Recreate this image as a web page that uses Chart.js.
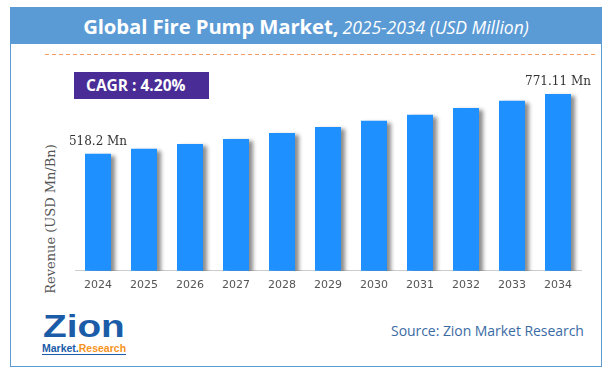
<!DOCTYPE html>
<html>
<head>
<meta charset="utf-8">
<script src="https://cdn.jsdelivr.net/npm/chart.js@4"></script>
<style>
  html, body { margin: 0; padding: 0; background: #fff; }
  body { width: 613px; height: 379px; position: relative; overflow: hidden; }
  .abs { position: absolute; }
  #frame { left: 10px; top: 7px; width: 592px; height: 360px; box-sizing: border-box; border: 1.5px solid #5B9BD5; }
  #band { left: 10px; top: 7px; width: 592px; height: 37px; background: #5B9BD5; color: #fff; text-align: center; line-height: 38px; white-space: nowrap; font-family: "Open Sans", sans-serif; }
  #band b { font-weight: 700; font-size: 20.3px; letter-spacing: -0.1px; }
  #band i { font-weight: 400; font-size: 17.5px; }
  #dash { left: 45px; top: 53.5px; width: 552px; height: 1.5px; background: repeating-linear-gradient(to right, #F29B62 0 4px, transparent 4px 7px); }
  #cagr { left: 74px; top: 72px; width: 135px; height: 27px; background: #4A2C96; color: #fff; font-family: "Open Sans", sans-serif; font-weight: 700; font-size: 15.5px; line-height: 27px; box-sizing: border-box; padding-left: 12px; white-space: nowrap; }
  #ytitle { left: 50px; top: 219px; transform: translate(-50%, -50%) rotate(-90deg); font-family: "DejaVu Serif", serif; font-size: 13px; color: #555; white-space: nowrap; }
  #source { left: 391px; top: 321px; font-family: "Open Sans", sans-serif; font-size: 14px; color: #3B6BA5; white-space: nowrap; letter-spacing: -0.05px; }
  #logo1 { left: 43px; top: 309px; font-family: "Liberation Sans", sans-serif; font-weight: 700; font-size: 31px; color: #1A5CA8; transform-origin: left top; transform: scaleX(1.25); line-height: 36px; }
  #logo2 { left: 42px; top: 342px; font-family: "Liberation Sans", sans-serif; font-weight: 700; font-size: 10.5px; line-height: 12px; border-bottom: 1px solid #1A5CA8; white-space: nowrap; }
  #logo2 .m { color: #1A5CA8; }
  #logo2 .r { color: #F7941D; }
  #c { position: absolute; left: 0; top: 0; }
</style>
</head>
<body>
<div id="frame" class="abs"></div>
<div id="band" class="abs"><b>Global Fire Pump Market,</b> <i>2025-2034 (USD Million)</i></div>
<div id="dash" class="abs"></div>
<div id="cagr" class="abs">CAGR :&nbsp;4.20%</div>
<div id="ytitle" class="abs">Revenue (USD Mn/Bn)</div>
<div id="logo1" class="abs">Zion</div>
<div id="logo2" class="abs"><span class="m">Market.</span><span class="r">Research</span></div>
<div id="source" class="abs">Source: Zion Market Research</div>
<canvas id="c" width="613" height="379"></canvas>
<script>
const years = ['2024','2025','2026','2027','2028','2029','2030','2031','2032','2033','2034'];
const revenue = [518.2, 539.2, 560.1, 581.1, 606.3, 631.4, 657.9, 683.0, 711.1, 741.7, 771.11];
const valueLabels = ['518.2 Mn', null, null, null, null, null, null, null, null, null, '771.11 Mn'];

const barShadowAndLabels = {
  id: 'barShadowAndLabels',
  beforeDatasetsDraw(chart) {
    const ctx = chart.ctx;
    ctx.save();
    ctx.shadowColor = 'rgba(0,0,0,0.45)';
    ctx.shadowOffsetX = 4;
    ctx.shadowOffsetY = 2;
    ctx.shadowBlur = 4;
  },
  afterDatasetsDraw(chart) {
    const ctx = chart.ctx;
    ctx.restore();
    const meta = chart.getDatasetMeta(0);
    ctx.save();
    ctx.font = '12px "DejaVu Serif", serif';
    ctx.fillStyle = '#333';
    ctx.textAlign = 'center';
    ctx.textBaseline = 'middle';
    meta.data.forEach((bar, i) => {
      const t = valueLabels[i];
      if (t) ctx.fillText(t, bar.x, bar.y - 12);
    });
    ctx.restore();
  }
};

new Chart(document.getElementById('c'), {
  type: 'bar',
  data: {
    labels: years,
    datasets: [{
      data: revenue,
      backgroundColor: '#1E90FF',
      borderWidth: 0,
      barPercentage: 0.565,
      categoryPercentage: 1.0
    }]
  },
  options: {
    responsive: false,
    devicePixelRatio: 1,
    animation: false,
    layout: { padding: { left: 75, right: 32, top: 60, bottom: 79 } },
    plugins: { legend: { display: false }, tooltip: { enabled: false }, title: { display: false } },
    scales: {
      x: {
        grid: { display: false, drawTicks: false },
        border: { display: true, color: '#cccccc', width: 1 },
        ticks: { color: '#555', font: { family: 'DejaVu Sans', size: 11 }, padding: 8 }
      },
      y: { display: false, min: 25, max: 914 }
    }
  },
  plugins: [barShadowAndLabels]
});
</script>
</body>
</html>
